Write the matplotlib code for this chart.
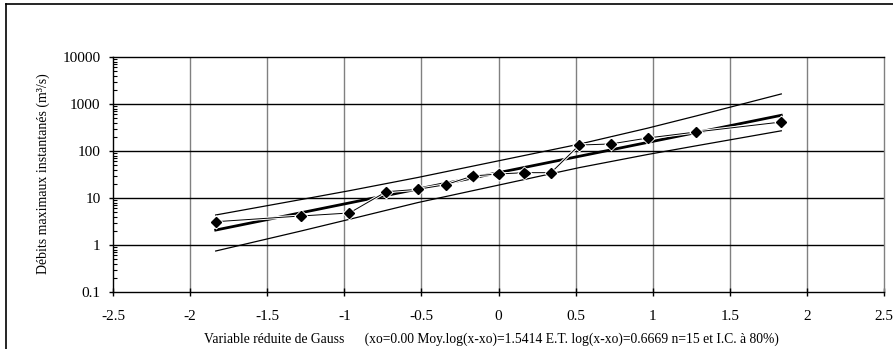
import matplotlib
matplotlib.use("Agg")
import matplotlib.pyplot as plt
import matplotlib.patheffects as pe
from matplotlib.lines import Line2D
from matplotlib.ticker import FixedLocator, FixedFormatter, LogLocator, NullFormatter

# ---- data ----
gauss_z = [-1.834, -1.282, -0.967, -0.728, -0.524, -0.341, -0.168, 0.0,
           0.168, 0.341, 0.524, 0.728, 0.967, 1.282, 1.834]
debits = [3.13, 4.14, 4.8, 13.6, 15.3, 19.2, 29.4, 32.4,
          34.6, 34.6, 134, 141, 189, 254, 414]

fit_z = [-1.834, 1.834]
fit_q = [2.08, 575]

ci_z = [-1.834, -1.282, -0.967, -0.524, 0.0, 0.524, 0.967, 1.282, 1.834]
ci_upper = [4.35, 9.25, 14.3, 27.3, 61.8, 140, 306, 557, 1637]
ci_lower = [0.745, 1.98, 3.52, 7.98, 18.8, 44.3, 84.3, 129, 269]

x_ticks = [-2.5, -2, -1.5, -1, -0.5, 0, 0.5, 1, 1.5, 2, 2.5]
x_tick_labels = ["-2.5", "-2", "-1.5", "-1", "-0.5", "0", "0.5", "1", "1.5", "2", "2.5"]
y_ticks = [0.1, 1, 10, 100, 1000, 10000]
y_tick_labels = ["0.1", "1", "10", "100", "1000", "10000"]

ylabel = "Débits maximaux instantanés (m³/s)"
xlabel = ("Variable réduite de Gauss      (xo=0.00 Moy.log(x-xo)=1.5414 "
          "E.T. log(x-xo)=0.6669 n=15 et I.C. à 80%)")

plt.rcParams['font.family'] = ['Liberation Serif', 'DejaVu Serif']

W, H = 893, 349
fig = plt.figure(figsize=(W / 100, H / 100), dpi=100)
ax = fig.add_axes([113 / W, 1 - 292 / H, (884 - 113) / W, (292 - 57) / H])

ax.set_yscale('log')
ax.set_xlim(-2.5, 2.5)
ax.set_ylim(0.1, 10000)

# grid
for xv in x_ticks[1:-1]:
    ax.axvline(xv, color='#808080', lw=1.0, zorder=1)
for yv in y_ticks[1:-1]:
    ax.axhline(yv, color='black', lw=1.0, zorder=1)

# CI lines
ax.plot(ci_z, ci_upper, color='black', lw=0.9, zorder=3)
ax.plot(ci_z, ci_lower, color='black', lw=0.9, zorder=3)
# fit
ax.plot(fit_z, fit_q, color='black', lw=2.0, zorder=4)
# data
ax.plot(gauss_z, debits, color='black', lw=0.7, marker='D', markersize=5.2,
        markerfacecolor='black', markeredgecolor='black', zorder=5,
        path_effects=[pe.Stroke(linewidth=2.2, foreground='white'), pe.Normal()])

# spines
for s in ['left', 'bottom', 'top']:
    ax.spines[s].set_color('black')
    ax.spines[s].set_linewidth(1.0)
ax.spines['right'].set_color('#808080')
ax.spines['right'].set_linewidth(1.0)

ax.xaxis.set_major_locator(FixedLocator(x_ticks))
ax.xaxis.set_major_formatter(FixedFormatter(x_tick_labels))
ax.yaxis.set_major_locator(FixedLocator(y_ticks))
ax.yaxis.set_major_formatter(FixedFormatter(y_tick_labels))
ax.yaxis.set_minor_locator(LogLocator(base=10, subs=range(2, 10), numticks=20))
ax.yaxis.set_minor_formatter(NullFormatter())

ax.tick_params(axis='x', which='major', direction='inout', length=6, width=1,
               labelsize=11, pad=10, colors='black')
ax.tick_params(axis='y', which='major', direction='out', length=3, width=1,
               labelsize=11, pad=6)
ax.tick_params(axis='y', which='minor', direction='in', length=3, width=0.8)

ax.set_ylabel(ylabel, fontsize=10)
ax.yaxis.set_label_coords((43 - 113) / (884 - 113), (292 - 174) / (292 - 57))
ax.set_xlabel(xlabel, fontsize=9.8)
ax.xaxis.set_label_coords((491 - 113) / (884 - 113), -(339 - 292) / (292 - 57))
ax.xaxis.label.set_va('center')
ax.yaxis.label.set_va('center')

# outer frame
fig.add_artist(Line2D([6 / W, 6 / W], [0, 1 - 4 / H], transform=fig.transFigure,
                      color='black', lw=1.2))
fig.add_artist(Line2D([6 / W, 1], [1 - 4 / H, 1 - 4 / H], transform=fig.transFigure,
                      color='black', lw=1.2))

fig.savefig("out.png", dpi=100)
